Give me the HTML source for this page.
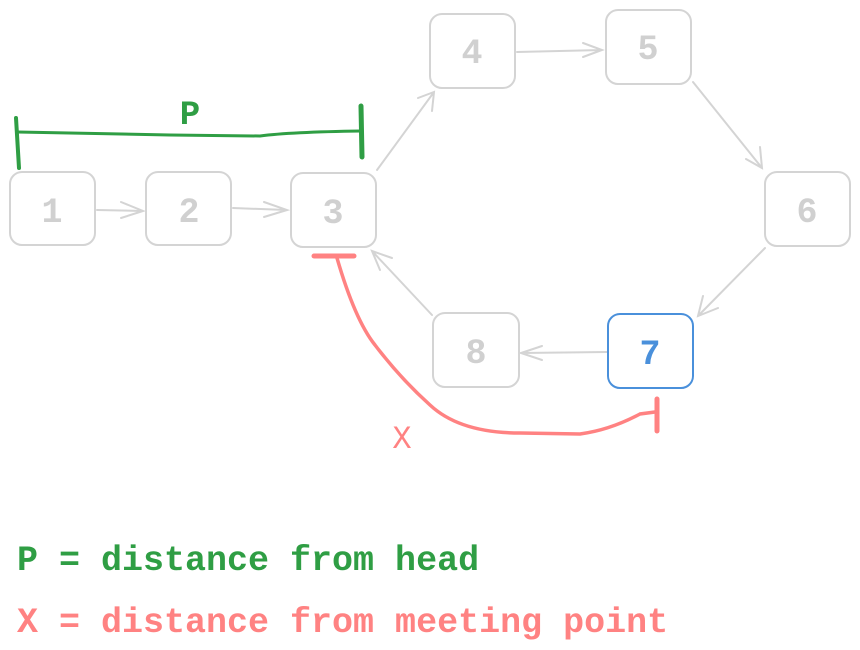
<!DOCTYPE html>
<html><head><meta charset="utf-8"><style>
html,body{margin:0;padding:0;background:#fff;width:860px;height:650px;overflow:hidden}
svg{display:block}
</style></head><body>
<svg width="860" height="650" viewBox="0 0 860 650" xmlns="http://www.w3.org/2000/svg">
<g fill="none" stroke="#d4d4d4" stroke-width="2" stroke-linecap="round">
<rect x="10" y="172" width="85" height="73" rx="12"/>
<rect x="146" y="172" width="85" height="73" rx="12"/>
<rect x="291" y="173" width="85" height="74" rx="12"/>
<rect x="430" y="14" width="85" height="74" rx="12"/>
<rect x="606" y="10" width="85" height="74" rx="12"/>
<rect x="765" y="172" width="85" height="74" rx="12"/>
<rect x="433" y="313" width="86" height="74" rx="12"/>
<path d="M97 210 L143 211 M121 202 L143 211 L121 218"/>
<path d="M233 208 L287 210 M264 202 L287 210 L264 217"/>
<path d="M377 170 L434 92 M418 98 L434 92 L432 111"/>
<path d="M517 52 L602 50 M583 43 L602 50 L583 57"/>
<path d="M693 82 L762 168 M746 159 L762 168 L760 147"/>
<path d="M765 248 L698 316 M718 308 L698 316 L703 296"/>
<path d="M607 352 L521 353 M542 346 L521 353 L542 360"/>
<path d="M432 315 L372 251 M392 258 L372 251 L380 270"/>
</g>
<rect x="608" y="314" width="85" height="74" rx="12" fill="none" stroke="#4a90db" stroke-width="2"/>
<g font-family="'Liberation Mono',monospace" font-weight="bold" font-size="35" fill="#d0d0d0" text-anchor="middle">
<text x="52" y="222">1</text>
<text x="189" y="222">2</text>
<text x="333" y="223">3</text>
<text x="472" y="63">4</text>
<text x="648" y="59">5</text>
<text x="807" y="222">6</text>
<text x="476" y="363">8</text>
<text x="650" y="364" fill="#4a90db">7</text>
</g>
<g stroke="#2f9e44" stroke-width="3" fill="none" stroke-linecap="round">
<path d="M17 132 L170 135 L260 136 Q290 132 361 131"/>
<path d="M16 118 L19 168" stroke-width="4"/>
<path d="M361 106 L362 157" stroke-width="5"/>
</g>
<text x="190" y="124" font-family="'Liberation Mono',monospace" font-size="34" font-weight="bold" fill="#2f9e44" text-anchor="middle">P</text>
<g stroke="#ff8282" stroke-width="3.5" fill="none" stroke-linecap="round">
<path d="M314 256 L354 256" stroke-width="5"/>
<path d="M337 258 Q355 320 375 345 Q400 378 430 405 Q460 433 520 433 L580 434 Q610 430 640 414 L655 412"/>
<path d="M657 399 L657 431" stroke-width="5"/>
</g>
<text x="402" y="448" font-family="'Liberation Mono',monospace" font-size="32" fill="#ff8282" text-anchor="middle">X</text>
<g font-family="'Liberation Mono',monospace" font-size="35" font-weight="bold">
<text x="17" y="570" fill="#2f9e44">P = distance from head</text>
<text x="17" y="632" fill="#ff8282">X = distance from meeting point</text>
</g>
</svg>
</body></html>
